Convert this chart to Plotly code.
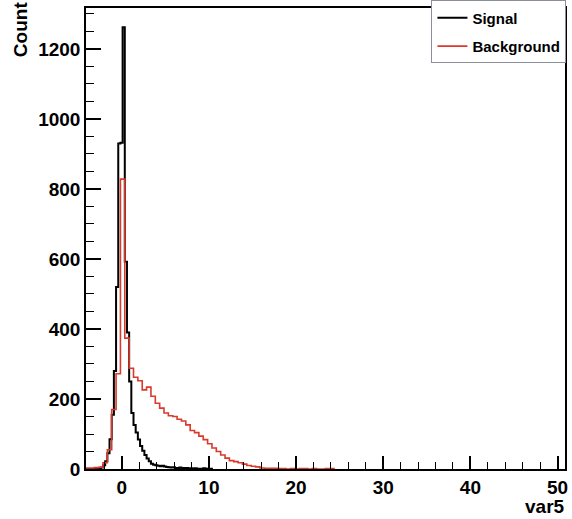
import plotly.graph_objects as go

# ---- data ----
signal_start = -4.15
signal_width = 0.25
signal_counts = [0, 0, 0, 0, 1, 1, 2, 4, 11, 22, 45, 85, 155, 280, 520, 930, 932,
                 1262, 592, 390, 250, 160, 126, 104, 84, 66, 52, 40, 30, 22, 15, 12,
                 11, 9, 8, 9, 7, 6, 5, 4, 5, 3, 3, 4, 2, 3, 3, 2, 2, 1, 2, 1, 1, 1,
                 2, 1, 0, 1]

background_start = -4.15
background_width = 0.5
background_counts = [3, 3, 4, 5, 18, 55, 170, 272, 828, 374, 288, 262, 252, 226,
                     234, 208, 188, 174, 160, 152, 150, 142, 137, 126, 110, 104, 94,
                     84, 72, 60, 50, 40, 31, 24, 21, 18, 14, 10, 8, 6, 3, 2, 2, 2,
                     1, 1, 0, 1, 0, 1, 1, 0, 1, 0, 0, 1, 1]

series_names = ["Signal", "Background"]
x_title = "var5"
y_title = "Count"

FONT = "Liberation Sans, Arial, Helvetica, sans-serif"
RED = "#d93a2b"


def step_xy(start, width, counts):
    xs = [start + width * i for i in range(len(counts) + 1)]
    ys = list(counts) + [0]
    return xs, ys


fig = go.Figure()
for name, start, width, counts, color, lw, grp in [
    (series_names[0], signal_start, signal_width, signal_counts, "black", 2, "s"),
    (series_names[1], background_start, background_width, background_counts, RED, 1.6, "b"),
]:
    xs, ys = step_xy(start, width, counts)
    fig.add_trace(go.Scatter(x=xs, y=ys, mode="lines", name=name,
                             line=dict(color=color, width=lw, shape="hv"),
                             legendgroup=grp))

fig.update_layout(
    width=572, height=519,
    margin=dict(l=86, r=7, t=8, b=50, autoexpand=False),
    paper_bgcolor="white", plot_bgcolor="white",
    font=dict(family=FONT, size=19, color="black", weight="bold"),
    showlegend=True,
    legend=dict(x=1.003, xanchor="right", y=1.0165, yanchor="top",
                bgcolor="white", bordercolor="#8a8f99", borderwidth=1,
                font=dict(family=FONT, size=15, color="black", weight="bold"),
                tracegroupgap=6, itemwidth=30),
)

fig.update_xaxes(
    range=[-4.1, 50.85], showgrid=False, zeroline=False,
    showline=True, linecolor="black", linewidth=1.5, mirror=True,
    ticks="inside", ticklen=13, tickwidth=1.5, tickcolor="black",
    tick0=0, dtick=10,
    minor=dict(dtick=2, tick0=0, ticks="inside", ticklen=7, tickwidth=1, tickcolor="black"),
    tickfont=dict(family=FONT, size=19, color="black", weight="bold"),
)
fig.update_yaxes(
    range=[0, 1317], showgrid=False, zeroline=False,
    showline=True, linecolor="black", linewidth=1.5, mirror=True,
    ticks="inside", ticklen=15, tickwidth=1.5, tickcolor="black",
    tick0=0, dtick=200,
    minor=dict(dtick=50, tick0=0, ticks="inside", ticklen=8, tickwidth=1, tickcolor="black"),
    tickfont=dict(family=FONT, size=19, color="black", weight="bold"),
)

fig.add_annotation(text=x_title, xref="paper", yref="paper", x=1.004, y=-0.082,
                   xanchor="right", yanchor="middle", showarrow=False,
                   font=dict(family=FONT, size=19, color="black", weight="bold"))
fig.add_annotation(text=y_title, xref="paper", yref="paper", x=-0.137, y=1.02,
                   xanchor="center", yanchor="top", textangle=-90, showarrow=False,
                   font=dict(family=FONT, size=19, color="black", weight="bold"))

fig.write_html("out.html", config={"displayModeBar": False},
               post_script="document.body.style.margin='0';")
